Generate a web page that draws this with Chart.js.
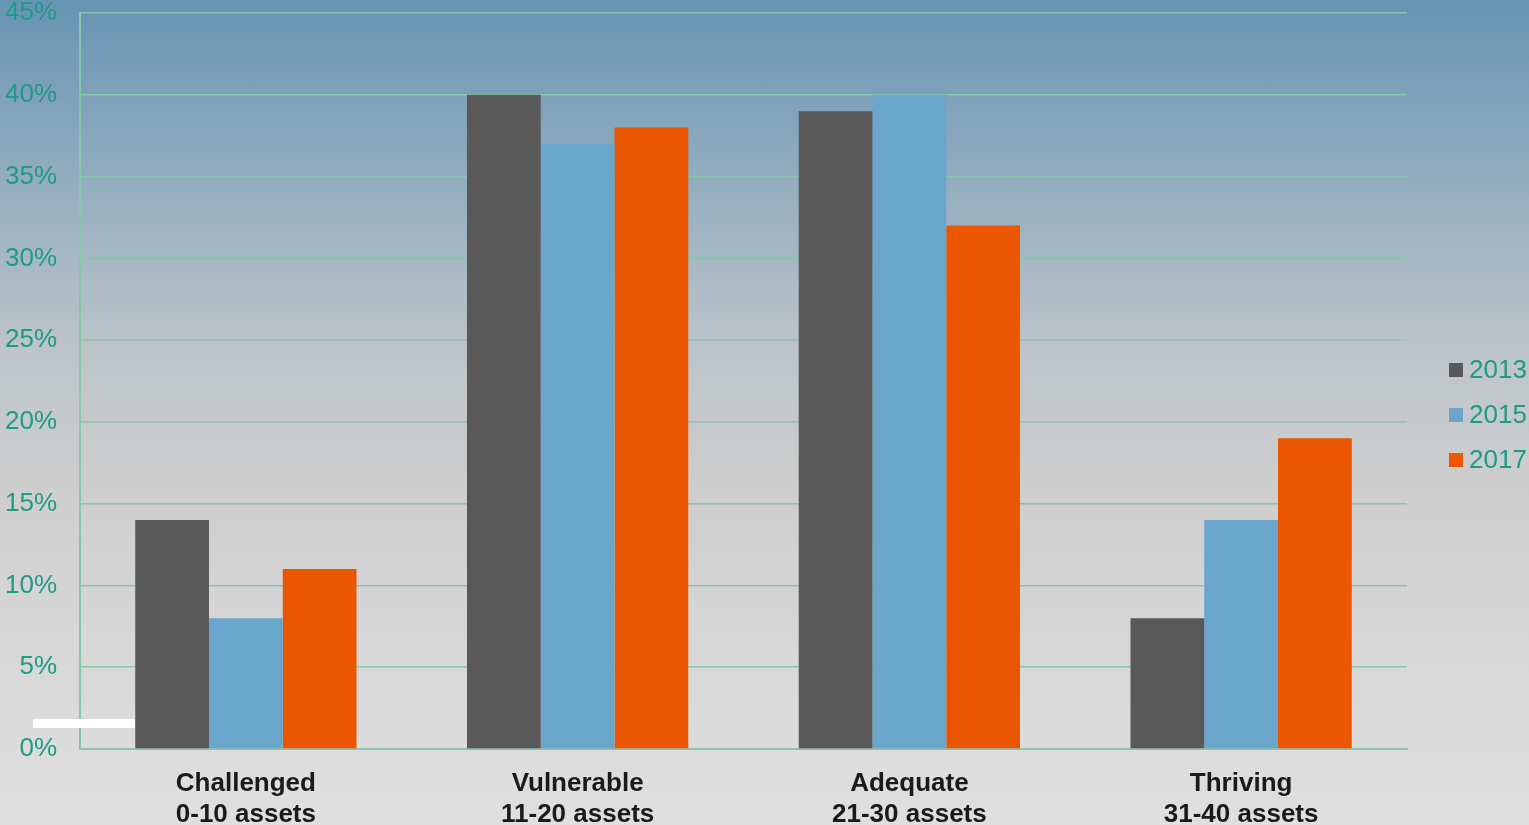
<!DOCTYPE html>
<html>
<head>
<meta charset="utf-8">
<script src="https://cdn.jsdelivr.net/npm/chart.js@4"></script>
<style>
    html, body { margin: 0; padding: 0; }
    body {
        width: 1529px; height: 825px; overflow: hidden; position: relative;
        background: linear-gradient(to bottom, #6794b3 0%, #93adbf 22%, #bcc4c9 42%, #cdcdcd 58%, #d8d8d8 80%, #dfdfdf 100%);
        font-family: "Liberation Sans", Arial, sans-serif;
    }
    #wrap { position: absolute; left: 0; top: 0; width: 1529px; height: 825px; }
    #legend { position: absolute; left: 1449px; top: 347px; }
    .legend-item { display: flex; align-items: center; height: 45px; font-size: 26px; color: #1e9a86; }
    .legend-box { width: 14px; height: 14px; margin-right: 6px; }
    #mark { position: absolute; left: 33px; top: 719px; width: 102px; height: 9px; background: #fff; }
</style>
</head>
<body>
<div id="wrap"><canvas id="chart" width="1529" height="825"></canvas></div>
<div id="mark"></div>
<div id="legend"></div>
<script>
// categories and values (percent)
const categories = [
    ["Challenged", "0-10 assets"],
    ["Vulnerable", "11-20 assets"],
    ["Adequate", "21-30 assets"],
    ["Thriving", "31-40 assets"]
];
const years = ["2013", "2015", "2017"];
const values2013 = [14, 40, 39, 8];
const values2015 = [8, 37, 40, 14];
const values2017 = [11, 38, 32, 19];
const yTicks = [0, 5, 10, 15, 20, 25, 30, 35, 40, 45];

const colors = ["#595959", "#6aa5cb", "#eb5600"];
const gridColor = "#86c6a9";
const tickColor = "#1e9a86";

const series = [values2013, values2015, values2017];

const chart = new Chart(document.getElementById("chart"), {
    type: "bar",
    data: {
        labels: categories,
        datasets: series.map((vals, i) => ({
            label: years[i],
            data: vals,
            backgroundColor: colors[i],
            borderWidth: 0,
            categoryPercentage: 0.667,
            barPercentage: 1.0
        }))
    },
    options: {
        responsive: false,
        animation: false,
        layout: { padding: { top: 13, right: 122, left: 0, bottom: 0 } },
        plugins: {
            legend: { display: false },
            tooltip: { enabled: false }
        },
        scales: {
            x: {
                grid: { display: false, drawTicks: false },
                border: { display: true, color: "#8cc2ae", width: 2 },
                ticks: {
                    color: "#1a1a1a",
                    padding: 19,
                    font: { family: "'Liberation Sans', Arial, sans-serif", size: 26, weight: "bold", lineHeight: 1.2 }
                },
                afterFit: (axis) => { axis.height = 76; axis.paddingLeft = 0; axis.paddingRight = 0; }
            },
            y: {
                min: 0,
                max: 45,
                afterBuildTicks: (axis) => { axis.ticks = yTicks.map(v => ({ value: v })); },
                grid: { color: gridColor, lineWidth: 1.5, drawTicks: false },
                border: { display: true, color: gridColor, width: 2 },
                ticks: {
                    color: tickColor,
                    padding: 23,
                    font: { family: "'Liberation Sans', Arial, sans-serif", size: 26 },
                    callback: (v) => v + "%"
                },
                afterFit: (axis) => { axis.width = 80; axis.paddingTop = 0; axis.paddingBottom = 0; }
            }
        }
    }
});

// legend on the right
const legend = document.getElementById("legend");
chart.data.datasets.forEach(ds => {
    const item = document.createElement("div");
    item.className = "legend-item";
    item.innerHTML = `<div class="legend-box" style="background:${ds.backgroundColor}"></div><span>${ds.label}</span>`;
    legend.appendChild(item);
});
</script>
</body>
</html>
